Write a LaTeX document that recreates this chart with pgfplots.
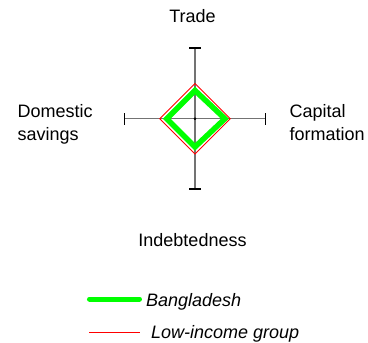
\documentclass[border=0pt]{standalone}
\usepackage{pgfplots}
\pgfplotsset{compat=1.18}
\usepackage{fontspec}
\setmainfont{Liberation Sans}

\definecolor{axisgray}{RGB}{115,115,115}
\definecolor{bdgreen}{RGB}{0,255,0}
\definecolor{lired}{RGB}{255,0,0}

\begin{document}
\begin{tikzpicture}
\path[use as bounding box] (-195bp,118.7bp) rectangle (173bp,-224.3bp);
\begin{axis}[
  at={(0,0)}, anchor=origin,
  x=35.25bp, y=35.25bp,
  xmin=-2, xmax=2, ymin=-2, ymax=2,
  hide axis,
  clip=false,
]
% diamond axes
\addplot[axisgray, line width=1.5bp] coordinates {(-2,0) (2,0)};
\addplot[axisgray, line width=1.5bp] coordinates {(0,-2) (0,2)};
% end caps
\addplot[black, line width=1.5bp] coordinates {(-2,-0.17) (-2,0.17)};
\addplot[black, line width=1.5bp] coordinates {(2,-0.17) (2,0.17)};
\addplot[black, line width=1.5bp] coordinates {(-0.17,2) (0.17,2)};
\addplot[black, line width=1.5bp] coordinates {(-0.17,-2) (0.17,-2)};

% Bangladesh: trade, capital formation, indebtedness, domestic savings
\addplot[bdgreen, line width=5.5bp, line join=miter] coordinates {
  (0,0.80) (0.85,0) (0,-0.80) (-0.80,0)
} -- cycle;
% low-income group
\addplot[lired, line width=0.9bp, line join=miter] coordinates {
  (0,1) (1,0) (0,-1) (-1,0)
} -- cycle;

\addplot[black, only marks, mark=*, mark size=1.1bp] coordinates {(0,0)};

% legend samples
\addplot[bdgreen, line width=5bp, line cap=round] coordinates {(-2.993,-5.115) (-1.575,-5.115)};
\addplot[lired, line width=0.9bp] coordinates {(-3.007,-6.051) (-1.560,-6.051)};
\end{axis}

\begin{scope}[every node/.style={inner sep=0pt, font=\fontsize{18bp}{22bp}\selectfont}]
\node[anchor=base] at (-2.5bp,95.7bp) {Trade};
\node[anchor=base] at (-2.5bp,-127.3bp) {Indebtedness};
\node[anchor=base west] at (-177.5bp,1.7bp) {Domestic};
\node[anchor=base west] at (-177.5bp,-21.3bp) {savings};
\node[anchor=base west] at (94.5bp,1.7bp) {Capital};
\node[anchor=base west] at (94.5bp,-21.3bp) {formation};
\node[anchor=base west] at (-49bp,-187.3bp) {\itshape Bangladesh};
\node[anchor=base west] at (-44bp,-219.3bp) {\itshape Low-income group};
\end{scope}
\end{tikzpicture}
\end{document}
